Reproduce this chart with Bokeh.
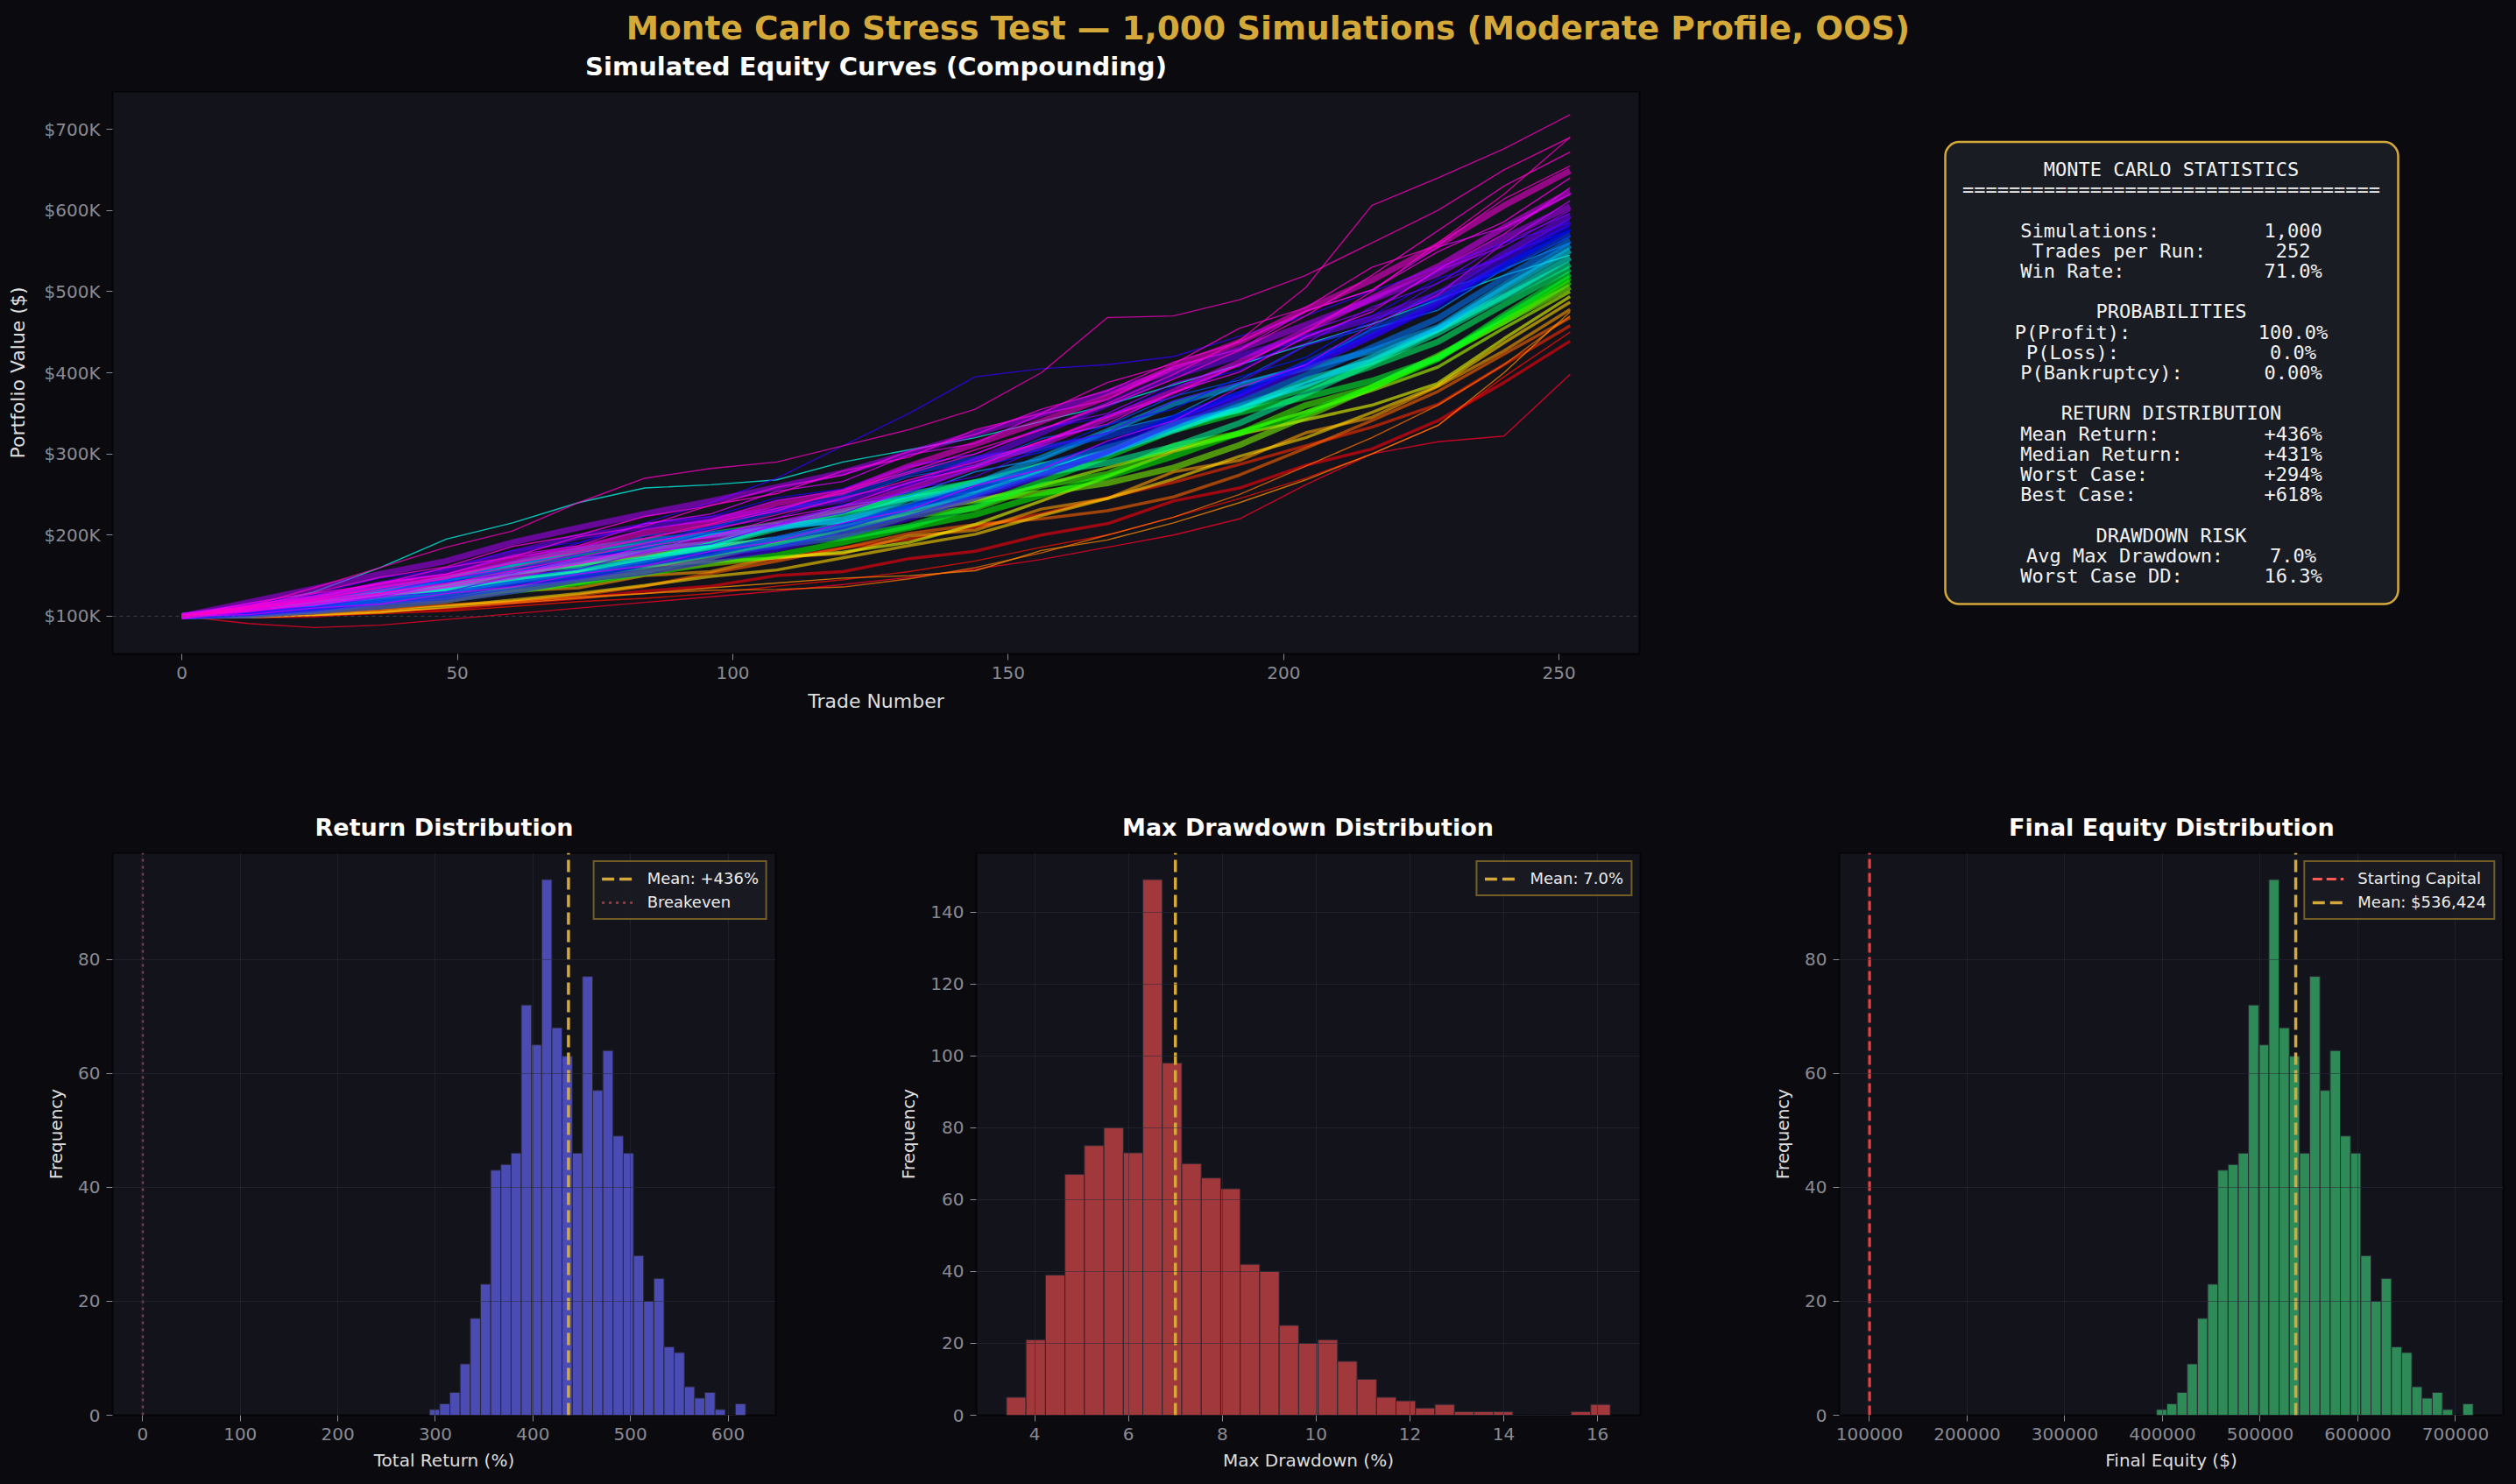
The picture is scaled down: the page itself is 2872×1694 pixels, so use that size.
import numpy as np
from bokeh.plotting import figure
from bokeh.layouts import column, row
from bokeh.models import Range1d, Span, BoxAnnotation, FixedTicker, BasicTickFormatter
from bokeh.core.properties import value
from bokeh.embed import file_html
from bokeh.resources import INLINE

# ---------------------------------------------------------------- data
SUPTITLE = "Monte Carlo Stress Test \u2014 1,000 Simulations (Moderate Profile, OOS)"
START_CAPITAL = 100000
MEAN_FINAL = 536424
MEAN_DRAWDOWN = 7.0

# trade numbers at which each simulated path is sampled
TRADE_CHECKPOINTS = [0, 12, 24, 36, 48, 60, 72, 84, 96, 108, 120, 132,
                     144, 156, 168, 180, 192, 204, 216, 228, 240, 252]

# portfolio value ($K) of the central paths
CORE_PATHS = [
    [100, 99, 100, 106, 108, 116, 122, 131, 137, 150, 155, 171, 180, 200, 214, 242, 258, 286, 306, 341, 388, 439],
    [100, 104, 111, 118, 125, 137, 145, 154, 163, 171, 184, 195, 210, 226, 246, 265, 287, 310, 333, 361, 410, 458],
    [100, 103, 106, 111, 114, 118, 126, 137, 153, 168, 184, 202, 213, 220, 230, 247, 274, 307, 341, 377, 423, 468],
    [100, 102, 105, 115, 118, 131, 135, 150, 155, 173, 177, 199, 206, 232, 245, 278, 292, 326, 345, 383, 427, 478],
    [100, 99, 102, 105, 112, 120, 128, 138, 149, 157, 172, 187, 201, 224, 245, 269, 297, 320, 351, 384, 437, 487],
    [100, 101, 107, 117, 127, 141, 155, 162, 167, 172, 179, 191, 213, 242, 272, 303, 324, 342, 360, 387, 442, 494],
    [100, 107, 117, 128, 137, 152, 163, 174, 186, 196, 211, 225, 243, 261, 283, 305, 327, 352, 378, 407, 455, 500],
    [100, 106, 113, 119, 125, 133, 142, 156, 173, 191, 208, 230, 243, 252, 264, 283, 311, 346, 382, 419, 463, 506],
    [100, 105, 111, 123, 128, 144, 150, 167, 173, 194, 199, 224, 233, 261, 275, 310, 325, 360, 382, 421, 463, 512],
    [100, 101, 107, 112, 120, 131, 141, 153, 165, 175, 191, 209, 225, 249, 272, 297, 326, 350, 382, 417, 468, 517],
    [100, 104, 112, 123, 136, 151, 167, 176, 182, 188, 197, 211, 235, 266, 297, 329, 351, 370, 390, 418, 471, 522],
    [100, 110, 122, 134, 145, 163, 175, 188, 201, 213, 229, 246, 265, 285, 308, 331, 355, 381, 408, 438, 484, 528],
    [100, 109, 117, 126, 133, 143, 154, 169, 188, 208, 226, 250, 265, 276, 289, 309, 338, 374, 412, 449, 493, 534],
    [100, 108, 116, 130, 137, 155, 163, 182, 189, 211, 218, 245, 256, 286, 301, 338, 354, 391, 414, 453, 495, 542],
    [100, 104, 112, 120, 131, 144, 156, 170, 184, 195, 213, 233, 251, 278, 302, 329, 359, 385, 419, 454, 504, 551],
    [100, 107, 117, 131, 146, 164, 182, 193, 200, 209, 219, 236, 263, 295, 328, 362, 385, 406, 427, 456, 508, 557],
    [100, 103, 108, 117, 124, 137, 148, 162, 177, 186, 206, 227, 249, 275, 301, 334, 364, 397, 431, 467, 517, 563],
    [100, 112, 123, 134, 144, 157, 170, 188, 208, 230, 249, 277, 294, 307, 322, 344, 374, 412, 451, 490, 532, 571],
    [100, 104, 110, 119, 127, 140, 150, 165, 178, 195, 211, 234, 258, 284, 311, 344, 374, 410, 445, 483, 532, 578],
    [100, 101, 106, 112, 120, 131, 145, 154, 169, 183, 200, 221, 246, 273, 303, 338, 370, 406, 445, 486, 539, 586],
    [100, 110, 123, 139, 157, 178, 198, 211, 220, 231, 243, 263, 292, 326, 361, 396, 421, 444, 467, 497, 547, 594],
    [100, 117, 134, 152, 168, 191, 209, 226, 242, 259, 277, 301, 325, 349, 376, 403, 429, 459, 490, 522, 566, 605],
    [100, 108, 117, 126, 138, 149, 168, 178, 196, 214, 232, 257, 284, 312, 344, 377, 413, 452, 492, 531, 579, 623],
    [100, 111, 122, 138, 149, 169, 184, 203, 216, 239, 253, 285, 312, 340, 370, 407, 438, 478, 514, 557, 606, 649],
]

# portfolio value ($K) of thin paths running through the upper half of the band
UPPER_PATHS = [
    [100, 116, 129, 148, 161, 186, 200, 223, 236, 259, 274, 303, 324, 355, 378, 413, 438, 476, 502, 549, 586, 640],
    [100, 107, 114, 126, 136, 154, 164, 186, 198, 221, 236, 265, 284, 316, 337, 376, 401, 444, 475, 527, 571, 628],
    [100, 102, 110, 115, 128, 136, 152, 162, 180, 192, 215, 231, 261, 281, 316, 341, 382, 410, 459, 496, 560, 612],
    [100, 113, 124, 142, 152, 173, 184, 207, 219, 243, 255, 284, 300, 332, 350, 387, 408, 451, 478, 526, 556, 600],
    [100, 107, 119, 128, 147, 156, 177, 188, 209, 221, 247, 263, 294, 312, 348, 370, 411, 436, 481, 510, 561, 596],
    [100, 106, 111, 124, 130, 149, 158, 179, 189, 213, 227, 256, 272, 307, 326, 365, 388, 433, 461, 511, 543, 590],
    [100, 115, 127, 147, 158, 181, 191, 214, 223, 246, 257, 286, 300, 331, 346, 383, 403, 446, 470, 516, 543, 582],
    [100, 103, 115, 124, 142, 153, 173, 183, 203, 213, 238, 252, 284, 302, 336, 355, 395, 419, 466, 492, 546, 575],
    [100, 111, 119, 134, 144, 165, 175, 199, 209, 232, 243, 272, 286, 319, 335, 371, 391, 434, 456, 501, 526, 568],
    [100, 106, 117, 126, 142, 151, 171, 179, 201, 210, 236, 248, 278, 294, 328, 347, 387, 409, 454, 477, 528, 560],
    [100, 111, 123, 140, 152, 175, 187, 214, 226, 254, 266, 299, 313, 349, 367, 408, 429, 476, 502, 555, 579, 620],
    [100, 112, 128, 140, 160, 173, 198, 211, 237, 251, 279, 296, 330, 350, 388, 411, 455, 480, 530, 557, 614, 655],
]

# portfolio value ($K) of the extreme paths
OUTLIER_PATHS = [
    [100, 110, 121, 135, 150, 165, 180, 196, 214, 233, 252, 276, 300, 330, 362, 398, 440, 505, 606, 640, 676, 718],
    [100, 112, 135, 160, 185, 205, 240, 270, 282, 290, 310, 330, 355, 400, 468, 470, 490, 520, 560, 600, 650, 690],
    [100, 110, 130, 160, 195, 215, 240, 258, 262, 268, 290, 305, 320, 340, 360, 385, 410, 435, 460, 490, 520, 545],
    [100, 108, 120, 135, 150, 168, 190, 215, 240, 270, 310, 350, 395, 405, 410, 420, 445, 470, 500, 530, 560, 585],
    [100, 91, 86, 89, 96, 103, 110, 117, 124, 131, 139, 148, 158, 170, 185, 200, 220, 262, 300, 315, 322, 398],
    [100, 98, 100, 103, 106, 112, 118, 122, 128, 137, 145, 155, 168, 185, 200, 222, 245, 270, 300, 335, 395, 450],
    [100, 101, 104, 108, 113, 118, 124, 128, 132, 133, 136, 146, 160, 178, 200, 222, 250, 285, 320, 360, 410, 470],
    [100, 99, 101, 105, 110, 116, 122, 128, 135, 141, 147, 150, 156, 181, 194, 215, 240, 268, 300, 335, 400, 475],
    [100, 106, 116, 128, 140, 156, 172, 190, 206, 225, 245, 268, 290, 315, 345, 375, 410, 450, 500, 560, 620, 690],
    [100, 109, 118, 132, 147, 160, 178, 195, 212, 230, 255, 278, 305, 330, 360, 392, 428, 470, 520, 575, 630, 672],
]

EQUITY_TICKS = [100, 200, 300, 400, 500, 600, 700]
TRADE_TICKS = [0, 50, 100, 150, 200, 250]

# total return histogram (31 equal bins between worst and best case)
RETURN_MIN, RETURN_MAX = 294.0, 618.0
RETURN_COUNTS = [1, 2, 4, 9, 17, 23, 43, 44, 46, 72, 65, 94, 68, 63, 46, 77,
                 57, 64, 49, 46, 28, 20, 24, 12, 11, 5, 3, 4, 1, 0, 2]
RETURN_TICKS = [0, 100, 200, 300, 400, 500, 600]

# max drawdown histogram (31 equal bins)
DD_MIN, DD_MAX = 3.40, 16.27
DD_COUNTS = [5, 21, 39, 67, 75, 80, 73, 149, 98, 70, 66, 63, 42, 40, 25, 20,
             21, 15, 10, 5, 4, 2, 3, 1, 1, 1, 0, 0, 0, 1, 3]
DD_TICKS = [4, 6, 8, 10, 12, 14, 16]

FINAL_TICKS = [100000, 200000, 300000, 400000, 500000, 600000, 700000]
FREQ_TICKS_A = [0, 20, 40, 60, 80]
FREQ_TICKS_B = [0, 20, 40, 60, 80, 100, 120, 140]

STATS_TITLE = "MONTE CARLO STATISTICS"
STATS_RULE = "=" * 36
STATS_BLOCKS = [
    (None, [("Simulations:", "1,000"), ("Trades per Run:", "252"), ("Win Rate:", "71.0%")]),
    ("PROBABILITIES", [("P(Profit):", "100.0%"), ("P(Loss):", "0.0%"), ("P(Bankruptcy):", "0.00%")]),
    ("RETURN DISTRIBUTION", [("Mean Return:", "+436%"), ("Median Return:", "+431%"),
                             ("Worst Case:", "+294%"), ("Best Case:", "+618%")]),
    ("DRAWDOWN RISK", [("Avg Max Drawdown:", "7.0%"), ("Worst Case DD:", "16.3%")]),
]

# ---------------------------------------------------------------- style
PAGE_BG = "#0b0b0f"
PANEL_BG = "#12131b"
GOLD = "#d4a93a"
LEGEND_GOLD = "#c9a22c"
TICK_GRAY = "#8a8a93"
LABEL_LIGHT = "#dedede"
SANS = "DejaVu Sans"
MONO = "DejaVu Sans Mono"


def gist_rainbow(q):
    stops = [0.000, 0.030, 0.215, 0.400, 0.586, 0.770, 0.954, 1.000]
    r = [1, 1, 1, 0, 0, 0, 1, 1]
    g = [0, 0, 1, 1, 1, 0, 0, 0]
    b = [0.16, 0, 0, 0, 1, 1, 1, 0.75]
    rgb = [int(round(255 * np.interp(q, stops, c))) for c in (r, g, b)]
    return "#%02x%02x%02x" % tuple(rgb)


def blank(width, height, frame_height=None):
    fh = height if frame_height is None else frame_height
    p = figure(width=width, height=height, x_range=Range1d(0, width), y_range=Range1d(fh, 0),
               x_axis_type=None, y_axis_type=None, output_backend="svg", toolbar_location=None,
               min_border=0, min_border_bottom=height - fh)
    p.grid.visible = False
    p.outline_line_color = None
    p.background_fill_color = PAGE_BG
    p.border_fill_color = PAGE_BG
    return p


def style_axes(p, tick_size, label_size, xstandoff, ystandoff):
    p.background_fill_color = PANEL_BG
    p.border_fill_color = PAGE_BG
    p.outline_line_color = "#040406"
    p.outline_line_width = 2
    for ax in p.axis:
        ax.axis_line_color = None
        ax.major_tick_line_color = TICK_GRAY
        ax.major_tick_out = 7
        ax.major_tick_in = 0
        ax.minor_tick_line_color = None
        ax.major_label_text_color = TICK_GRAY
        ax.major_label_text_font = SANS
        ax.major_label_text_font_size = tick_size
        ax.major_label_standoff = 7
        ax.axis_label_text_color = LABEL_LIGHT
        ax.axis_label_text_font = SANS
        ax.axis_label_text_font_size = label_size
        ax.axis_label_text_font_style = "normal"
    p.xaxis.axis_label_standoff = xstandoff
    p.yaxis.axis_label_standoff = ystandoff


# ---------------------------------------------------------------- header
header = blank(2872, 104)
header.text(x=[1447], y=[31], text=[SUPTITLE], text_font=value(SANS), text_font_style="bold",
            text_font_size="37.5px", text_color=GOLD, text_align="center", text_baseline="middle")
header.text(x=[999.5], y=[75], text=["Simulated Equity Curves (Compounding)"], text_font=value(SANS),
            text_font_style="bold", text_font_size="29px", text_color="#ffffff",
            text_align="center", text_baseline="middle")

# ---------------------------------------------------------------- equity curves
eq = figure(width=1920, height=799, x_range=Range1d(-12.6, 264.6), y_range=Range1d(53.5, 746.5),
            output_backend="svg", toolbar_location=None,
            min_border_left=128, min_border_right=49, min_border_top=0, min_border_bottom=157)
style_axes(eq, "20px", "22px", 10, 14)
eq.grid.visible = False
eq.xaxis.axis_label = "Trade Number"
eq.yaxis.axis_label = "Portfolio Value ($)"
eq.xaxis.ticker = FixedTicker(ticks=TRADE_TICKS)
eq.yaxis.ticker = FixedTicker(ticks=EQUITY_TICKS)
eq.yaxis.major_label_overrides = {v: "$%dK" % v for v in EQUITY_TICKS}
eq.add_layout(Span(location=START_CAPITAL / 1000, dimension="width", line_color="#5a5a66",
                   line_alpha=0.6, line_dash="4 4", line_width=1))

cum_share = np.concatenate([[0.0], np.cumsum(RETURN_COUNTS)]) / float(sum(RETURN_COUNTS))
final_edges_k = 100 + np.linspace(RETURN_MIN, RETURN_MAX, len(RETURN_COUNTS) + 1)

# every path is coloured by the share of simulations finishing below it and
# drawn from the weakest to the strongest finish
paths = ([(pth, "core") for pth in CORE_PATHS] + [(pth, "thin") for pth in UPPER_PATHS]
         + [(pth, "thin") for pth in OUTLIER_PATHS])
paths.sort(key=lambda item: item[0][-1])
for pth, kind in paths:
    share = float(np.interp(pth[-1], final_edges_k, cum_share))
    col = gist_rainbow(min(share, 0.999))
    if kind == "core" and share >= 0.3:
        eq.line(TRADE_CHECKPOINTS, pth, line_color=col, line_width=7, line_alpha=0.55)
    elif kind == "core":
        eq.line(TRADE_CHECKPOINTS, pth, line_color=col, line_width=3.5, line_alpha=0.6)
    else:
        eq.line(TRADE_CHECKPOINTS, pth, line_color=col, line_width=1.4, line_alpha=0.75)

# ---------------------------------------------------------------- statistics box
# frame height matches the equity frame so that the row keeps a 1:1 pixel scale
stats = blank(952, 799, frame_height=642)
box = BoxAnnotation(left=300, right=817, top=57.6, bottom=585, fill_color="#1a1c24", fill_alpha=1.0,
                    line_color=GOLD, line_alpha=1.0, line_width=2.5, border_radius=16,
                    level="underlay")
stats.add_layout(box)

CX = 558.0
ADV = 22 * 0.602
LABEL_PAD = 21


def line_y(k):
    return 89 + 23.2 * k


heads_x, heads_y, heads_t = [CX, CX], [line_y(0), line_y(1)], [STATS_TITLE, STATS_RULE]
lab_x, lab_y, lab_t, val_x, val_y, val_t = [], [], [], [], [], []
k = 3
for head, items in STATS_BLOCKS:
    if head is not None:
        heads_x.append(CX)
        heads_y.append(line_y(k))
        heads_t.append(head)
        k += 1
    for lab, val in items:
        n = LABEL_PAD + len(val)
        x0 = CX - n * ADV / 2
        lab_x.append(x0)
        val_x.append(x0 + LABEL_PAD * ADV)
        lab_y.append(line_y(k))
        val_y.append(line_y(k))
        lab_t.append(lab)
        val_t.append(val)
        k += 1
    k += 1

for xs, ys, ts, align in ((heads_x, heads_y, heads_t, "center"),
                          (lab_x, lab_y, lab_t, "left"),
                          (val_x, val_y, val_t, "left")):
    stats.text(x=xs, y=ys, text=ts, text_font=value(MONO), text_font_size="22px",
               text_color="#f2f2f2", text_align=align, text_baseline="middle")

# ---------------------------------------------------------------- histogram titles
strip = blank(2872, 70)
strip.text(x=[506.5, 1492.5, 2478.3], y=[41, 41, 41],
           text=["Return Distribution", "Max Drawdown Distribution", "Final Equity Distribution"],
           text_font=value(SANS), text_font_style="bold", text_font_size="27px",
           text_color="#ffffff", text_align="center", text_baseline="middle")


def histogram(width, left, right, x_range, y_top, edges, counts, color, xticks, yticks, xlabel):
    p = figure(width=width, height=721, x_range=x_range, y_range=Range1d(0, y_top),
               output_backend="svg", toolbar_location=None,
               min_border_left=left, min_border_right=right, min_border_top=0, min_border_bottom=79)
    style_axes(p, "20px", "20px", 8, 10)
    p.grid.grid_line_color = "#2c2c3c"
    p.grid.grid_line_alpha = 0.55
    p.grid.level = "guide"
    p.quad(left=edges[:-1], right=edges[1:], bottom=0, top=counts, fill_color=color,
           line_color="#2a2833", line_width=1)
    p.xaxis.ticker = FixedTicker(ticks=xticks)
    p.yaxis.ticker = FixedTicker(ticks=yticks)
    p.xaxis.formatter = BasicTickFormatter(use_scientific=False)
    p.xaxis.axis_label = xlabel
    p.yaxis.axis_label = "Frequency"
    return p


def style_legend(p):
    lg = p.legend[0]
    lg.location = "top_right"
    lg.margin = 9
    lg.padding = 8
    lg.spacing = 6
    lg.glyph_width = 36
    lg.glyph_height = 20
    lg.label_height = 20
    lg.label_standoff = 16
    lg.label_text_font = SANS
    lg.label_text_font_size = "18px"
    lg.label_text_color = "#ececec"
    lg.background_fill_color = "#1a1b22"
    lg.background_fill_alpha = 0.92
    lg.border_line_color = LEGEND_GOLD
    lg.border_line_width = 2


mean_return = (MEAN_FINAL / START_CAPITAL - 1) * 100

ret_edges = np.linspace(RETURN_MIN, RETURN_MAX, len(RETURN_COUNTS) + 1)
ha = histogram(990, 128, 105, Range1d(-30.9, 648.9), 98.7, ret_edges, RETURN_COUNTS, "#4a4cb4",
               RETURN_TICKS, FREQ_TICKS_A, "Total Return (%)")
ha.line([mean_return, mean_return], [0, 98.7], line_color=GOLD, line_width=3.5, line_dash="14 6",
        legend_label="Mean: +%.0f%%" % mean_return)
ha.line([0, 0], [0, 98.7], line_color="#b03a48", line_width=2.5, line_dash="3 5",
        legend_label="Breakeven")
style_legend(ha)

dd_edges = np.linspace(DD_MIN, DD_MAX, len(DD_COUNTS) + 1)
hb = histogram(1000, 124, 118, Range1d(2.757, 16.913), 156.45, dd_edges, DD_COUNTS, "#a0383c",
               DD_TICKS, FREQ_TICKS_B, "Max Drawdown (%)")
hb.line([MEAN_DRAWDOWN, MEAN_DRAWDOWN], [0, 156.45], line_color=GOLD, line_width=3.5,
        line_dash="14 6", legend_label="Mean: %.1f%%" % MEAN_DRAWDOWN)
style_legend(hb)

final_edges = START_CAPITAL * (1 + ret_edges / 100)
hc = histogram(882, 109, 15, Range1d(69100, 748900), 98.7, final_edges, RETURN_COUNTS, "#2e8b57",
               FINAL_TICKS, FREQ_TICKS_A, "Final Equity ($)")
hc.line([START_CAPITAL, START_CAPITAL], [0, 98.7], line_color="#ff5a5a", line_width=3,
        line_dash="11 5", legend_label="Starting Capital")
hc.line([MEAN_FINAL, MEAN_FINAL], [0, 98.7], line_color=GOLD, line_width=3.5, line_dash="14 6",
        legend_label="Mean: ${:,}".format(MEAN_FINAL))
style_legend(hc)

layout = column(header, row(eq, stats, spacing=0), strip, row(ha, hb, hc, spacing=0),
                spacing=0, styles={"background-color": PAGE_BG})

with open("out.html", "w") as fh:
    fh.write(file_html(layout, INLINE, title="Monte Carlo Stress Test"))
